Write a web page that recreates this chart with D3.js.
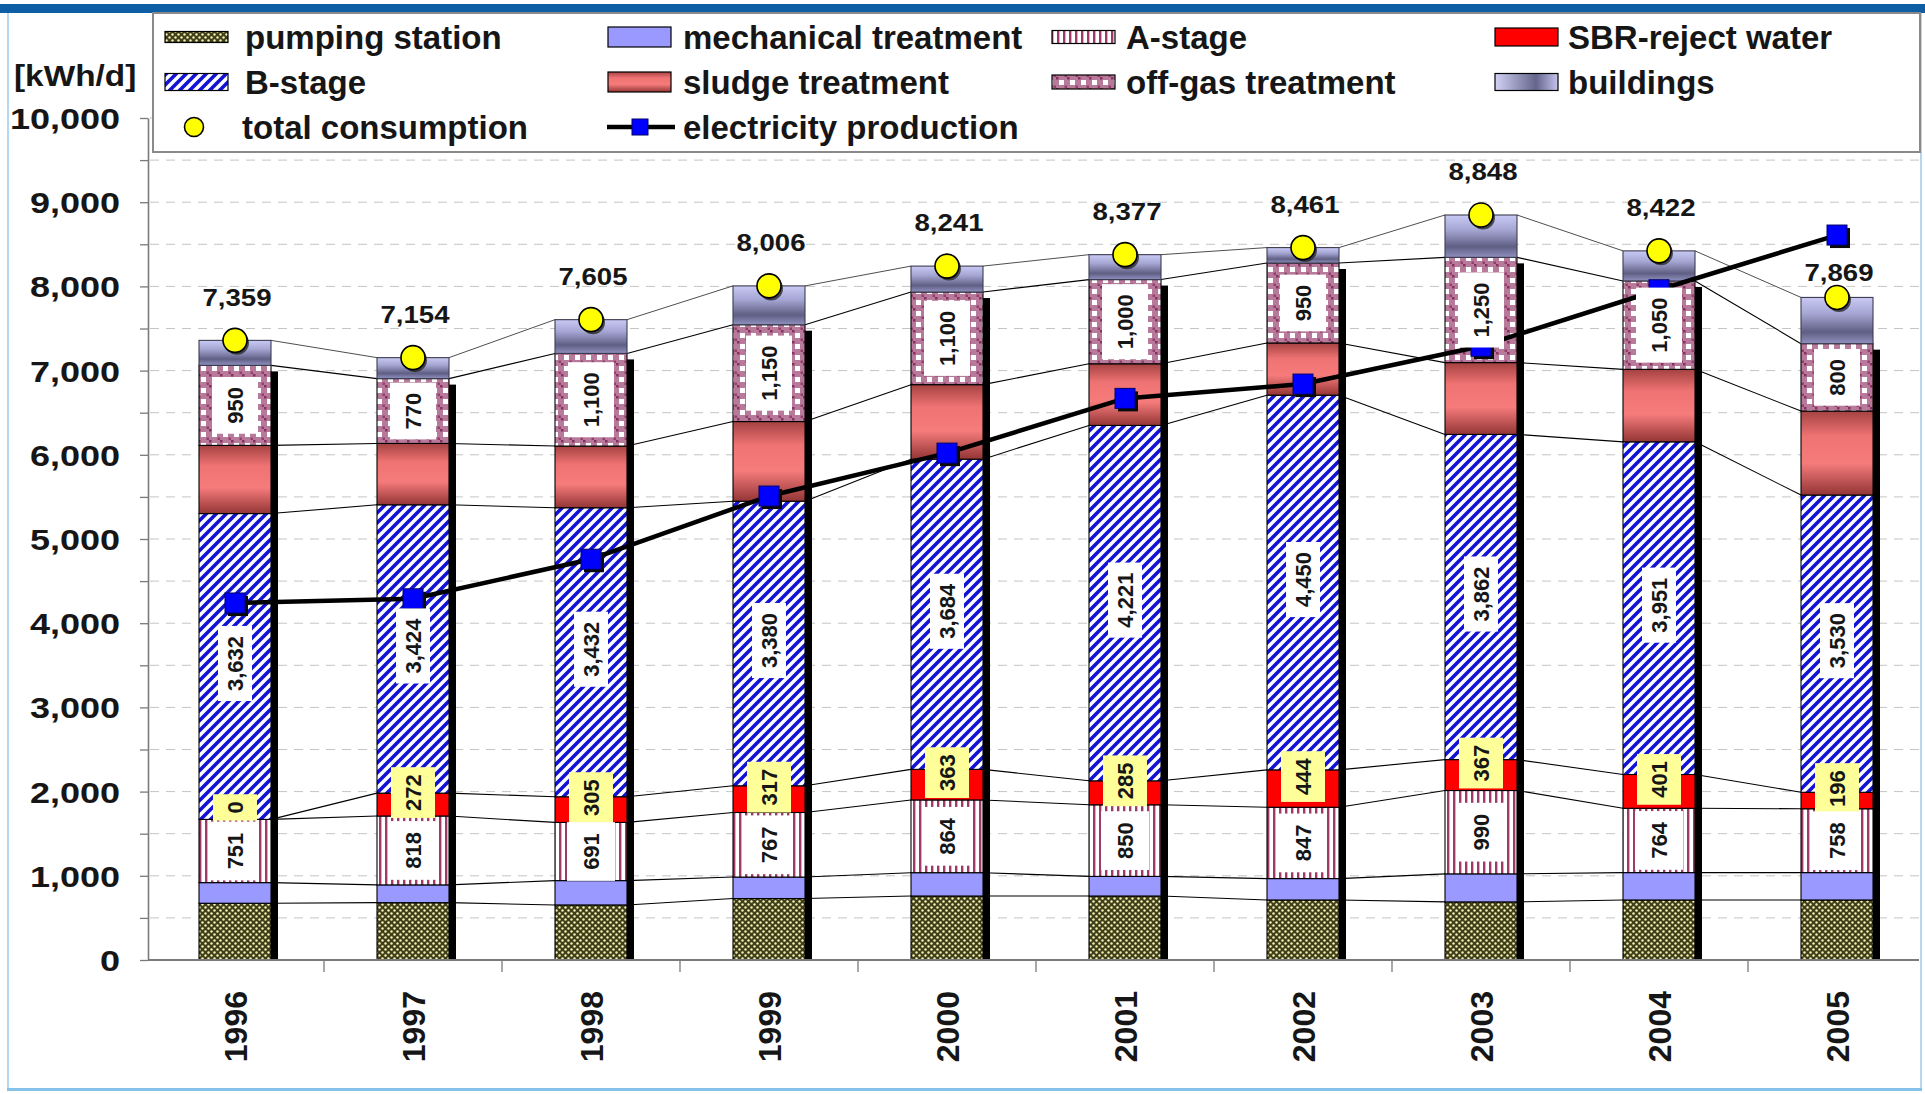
<!DOCTYPE html>
<html>
<head>
<meta charset="utf-8">
<script src="https://cdn.jsdelivr.net/npm/d3@7"></script>
<style>
  html, body { margin: 0; padding: 0; background: #fff; }
  svg { display: block; }
  text { font-family: "Liberation Sans", Arial, sans-serif; font-weight: bold; fill: #161616; }
</style>
</head>
<body>
<svg id="chart" width="1925" height="1094"></svg>
<script>
// ---- data: daily energy consumption by process unit [kWh/d] ----
const years = ["1996", "1997", "1998", "1999", "2000", "2001", "2002", "2003", "2004", "2005"];
const pumpingStation       = [674, 681, 654, 730, 760, 760, 713, 690, 713, 713];
const mechanicalTreatment  = [245, 211, 289, 255, 277, 233, 254, 333, 325, 325];
const aStage               = [751, 818, 691, 767, 864, 850, 847, 990, 764, 758];
const sbrRejectWater       = [0, 272, 305, 317, 363, 285, 444, 367, 401, 196];
const bStage               = [3632, 3424, 3432, 3380, 3684, 4221, 4450, 3862, 3951, 3530];
const sludgeTreatment      = [810, 729, 733, 946, 885, 732, 620, 853, 861, 998];
const offGasTreatment      = [950, 770, 1100, 1150, 1100, 1000, 950, 1250, 1050, 800];
const buildings            = [297, 249, 401, 461, 308, 296, 183, 503, 357, 549];
const totalConsumption     = [7359, 7154, 7605, 8006, 8241, 8377, 8461, 8848, 8422, 7869];
const electricityProduction = [4240, 4290, 4760, 5510, 6020, 6670, 6840, 7290, 7960, 8610];
const yTickValues  = [0, 500, 1000, 1500, 2000, 2500, 3000, 3500, 4000, 4500, 5000,
                      5500, 6000, 6500, 7000, 7500, 8000, 8500, 9000, 9500, 10000];
const yTickLabels  = [0, 1000, 2000, 3000, 4000, 5000, 6000, 7000, 8000, 9000, 10000];
const yUnit = "[kWh/d]";

// ---- series setup ----
const series = [
  { key: "pumping",    name: "pumping station",      values: pumpingStation,      fill: "url(#pumpPat)",  swH: 11 },
  { key: "mechanical", name: "mechanical treatment", values: mechanicalTreatment, fill: "#9999ff",        swH: 20 },
  { key: "aStage",     name: "A-stage",              values: aStage,              fill: "url(#aPat)",     swH: 13,
    label: { across: 48, pad: 22, bg: "#ffffff", shift: 0, order: 1 } },
  { key: "sbr",        name: "SBR-reject water",     values: sbrRejectWater,      fill: "#ff0000",        swH: 18,
    label: { across: 44, pad: 14, bg: "#ffff99", shift: -12, order: 0 } },
  { key: "bStage",     name: "B-stage",              values: bStage,              fill: "url(#bPat)",     swH: 17,
    label: { across: 34, pad: 20, bg: "#ffffff", shift: -3, order: 2 } },
  { key: "sludge",     name: "sludge treatment",     values: sludgeTreatment,     fill: "url(#sludgeGrad)", swH: 20 },
  { key: "offGas",     name: "off-gas treatment",    values: offGasTreatment,     fill: "url(#offPat)",   swH: 14,
    label: { across: 46, pad: 20, bg: "#ffffff", shift: 0, order: 3 } },
  { key: "buildings",  name: "buildings",            values: buildings,           fill: "url(#bldGrad)",  swH: 17 }
];

const table = years.map((yr, i) => {
  const row = { year: yr };
  series.forEach(s => { row[s.key] = s.values[i]; });
  return row;
});
const stacked = d3.stack().keys(series.map(s => s.key))(table);

const svg = d3.select("#chart");
const fmt = d3.format(",");

// ---- scales ----
const x = d3.scaleBand().domain(years).range([146, 1926]).paddingInner(106 / 178).paddingOuter(53 / 178);
const y = d3.scaleLinear().domain([0, 10000]).range([960, 118]);
const barW = x.bandwidth();
const step = x.step();
const xc = yr => x(yr) + barW / 2;

// ---- defs: fills ----
const defs = svg.append("defs");

const pump = defs.append("pattern").attr("id", "pumpPat").attr("patternUnits", "userSpaceOnUse")
  .attr("width", 6).attr("height", 6);
pump.append("rect").attr("width", 6).attr("height", 6).attr("fill", "#3e3e1a");
pump.append("circle").attr("cx", 1.5).attr("cy", 1.5).attr("r", 1.2).attr("fill", "#f6f1b2");
pump.append("circle").attr("cx", 4.5).attr("cy", 4.5).attr("r", 1.2).attr("fill", "#f6f1b2");

const aP = defs.append("pattern").attr("id", "aPat").attr("patternUnits", "userSpaceOnUse")
  .attr("width", 6).attr("height", 10);
aP.append("rect").attr("width", 6).attr("height", 10).attr("fill", "#ffffff");
aP.append("rect").attr("x", 1).attr("width", 2.4).attr("height", 10).attr("fill", "#9e3a6a");

const bP = defs.append("pattern").attr("id", "bPat").attr("patternUnits", "userSpaceOnUse")
  .attr("width", 10).attr("height", 10);
bP.append("rect").attr("width", 10).attr("height", 10).attr("fill", "#ffffff");
bP.append("path").attr("d", "M-2.5,2.5L2.5,-2.5M0,10L10,0M7.5,12.5L12.5,7.5")
  .attr("stroke", "#1212d4").attr("stroke-width", 3.6);

const oP = defs.append("pattern").attr("id", "offPat").attr("patternUnits", "userSpaceOnUse")
  .attr("width", 11).attr("height", 11);
oP.append("rect").attr("width", 11).attr("height", 11).attr("fill", "#b87a9a");
oP.append("rect").attr("x", 0).attr("y", 0).attr("width", 2.5).attr("height", 2.5).attr("fill", "#86305e");
oP.append("rect").attr("x", 8.5).attr("y", 8.5).attr("width", 2.5).attr("height", 2.5).attr("fill", "#943e6c");
oP.append("rect").attr("x", 3).attr("y", 3).attr("width", 5).attr("height", 5).attr("fill", "#ffffff");

function vGrad(id, stops, horizontal) {
  const g = defs.append("linearGradient").attr("id", id)
    .attr("x1", 0).attr("y1", 0).attr("x2", horizontal ? 1 : 0).attr("y2", horizontal ? 0 : 1);
  stops.forEach(([o, c]) => g.append("stop").attr("offset", o).attr("stop-color", c));
}
vGrad("sludgeGrad", [[0, "#a54242"], [0.3, "#f07373"], [0.62, "#f67b7b"], [1, "#933535"]]);
vGrad("bldGrad", [[0, "#c9c9f4"], [0.35, "#a6a6d4"], [0.75, "#5f5f84"], [1, "#9090c0"]]);
vGrad("bldGradH", [[0, "#d2d2f6"], [0.65, "#65658c"], [1, "#c4c4ee"]], true);

// ---- page frame ----
svg.append("rect").attr("x", 0).attr("y", 4).attr("width", 1925).attr("height", 9).attr("fill", "#0e5ea6");
svg.append("rect").attr("x", 7).attr("y", 13).attr("width", 2).attr("height", 1078).attr("fill", "#b6d7f0");
svg.append("rect").attr("x", 1920).attr("y", 13).attr("width", 2).attr("height", 1078).attr("fill", "#b6d7f0");
svg.append("rect").attr("x", 7).attr("y", 1088).attr("width", 1915).attr("height", 3).attr("fill", "#84c2ea");

// ---- gridlines ----
svg.append("g").selectAll("line").data(yTickValues.filter(v => v > 0)).join("line")
  .attr("x1", 150).attr("x2", 1919)
  .attr("y1", d => y(d)).attr("y2", d => y(d))
  .attr("stroke", "#c4c4c4").attr("stroke-width", 1).attr("stroke-dasharray", "9,7");

// ---- series lines joining the segment boundaries of neighbouring bars ----
const joinG = svg.append("g");
stacked.forEach((layer, k) => {
  for (let i = 0; i < years.length - 1; i++) {
    joinG.append("line")
      .attr("x1", x(years[i]) + barW).attr("y1", y(layer[i][1]))
      .attr("x2", x(years[i + 1])).attr("y2", y(layer[i + 1][1]))
      .attr("stroke", k === stacked.length - 1 ? "#3a3a3a" : "#000")
      .attr("stroke-width", k === stacked.length - 1 ? 0.9 : 1.1);
  }
});

// ---- bar shadows (below the top segment) ----
const offLayer = stacked[6];
svg.append("g").selectAll("rect").data(years).join("rect")
  .attr("x", d => x(d) + barW).attr("width", 7)
  .attr("y", (d, i) => y(offLayer[i][1]) + 6)
  .attr("height", (d, i) => y(0) - y(offLayer[i][1]) - 6)
  .attr("fill", "#000");

// ---- stacked segments (all but buildings) ----
const segG = svg.append("g");
function drawLayer(layer, s) {
  segG.append("g").selectAll("rect").data(layer).join("rect")
    .attr("x", d => x(d.data.year)).attr("width", barW)
    .attr("y", d => y(d[1])).attr("height", d => y(d[0]) - y(d[1]))
    .attr("fill", s.fill)
    .attr("stroke", s.key === "buildings" ? "#3c3c50" : "#000").attr("stroke-width", 1.1);
}
stacked.forEach((layer, k) => { if (series[k].key !== "buildings") drawLayer(layer, series[k]); });

// ---- electricity production line ----
const elecG = svg.append("g");
const lineGen = d3.line().x((d, i) => xc(years[i])).y(d => y(d));
elecG.append("path").attr("d", lineGen(electricityProduction))
  .attr("fill", "none").attr("stroke", "#000").attr("stroke-width", 4.5).attr("stroke-linejoin", "round");
elecG.selectAll("rect.sh").data(electricityProduction).join("rect").attr("class", "sh")
  .attr("x", (d, i) => xc(years[i]) - 10 + 3).attr("y", d => y(d) - 10 + 3)
  .attr("width", 20).attr("height", 20).attr("fill", "#0a0a0a");
elecG.selectAll("rect.sq").data(electricityProduction).join("rect").attr("class", "sq")
  .attr("x", (d, i) => xc(years[i]) - 10).attr("y", d => y(d) - 10)
  .attr("width", 20).attr("height", 20).attr("fill", "#0000ff").attr("stroke", "#00006a").attr("stroke-width", 1);

// ---- top segment: buildings ----
stacked.forEach((layer, k) => { if (series[k].key === "buildings") drawLayer(layer, series[k]); });

// ---- value labels inside the bars ----
const labG = svg.append("g");
const labelled = stacked.map((layer, k) => ({ layer, s: series[k] }))
  .filter(o => o.s.label)
  .sort((a, b) => a.s.label.order - b.s.label.order);
labelled.forEach(({ layer, s }) => {
  layer.forEach((d, i) => {
    const cx = xc(years[i]);
    const cy = (y(d[0]) + y(d[1])) / 2 + s.label.shift;
    const g = labG.append("g").attr("transform", `translate(${cx},${cy}) rotate(-90)`);
    const box = g.append("rect");
    const t = g.append("text").attr("text-anchor", "middle").attr("dy", "0.36em")
      .style("font-size", "22px").text(fmt(s.values[i]));
    const len = t.node().getComputedTextLength() + s.label.pad;
    box.attr("x", -len / 2).attr("y", -s.label.across / 2)
      .attr("width", len).attr("height", s.label.across).attr("fill", s.label.bg);
  });
});

// ---- total consumption markers and labels ----
const totG = svg.append("g");
totalConsumption.forEach((v, i) => {
  const cx = xc(years[i]), cy = y(v);
  totG.append("circle").attr("cx", cx + 2).attr("cy", cy + 2.5).attr("r", 12).attr("fill", "#222").attr("opacity", 0.75);
  totG.append("circle").attr("cx", cx).attr("cy", cy).attr("r", 12)
    .attr("fill", "#ffff00").attr("stroke", "#000").attr("stroke-width", 1.6);
  const gap = electricityProduction[i] > v ? 25 : 43;
  totG.append("text").attr("transform", `translate(${cx + 2},${cy - gap}) scale(1.2,1)`)
    .attr("text-anchor", "middle").attr("dy", "0.36em").style("font-size", "23px").text(fmt(v));
});

// ---- axes ----
const yAxis = d3.axisLeft(y).tickValues(yTickValues).tickSize(8).tickSizeOuter(0)
  .tickFormat(d => yTickLabels.includes(d) ? fmt(d) : "");
const yg = svg.append("g").attr("transform", "translate(148,0)").call(yAxis);
yg.select(".domain").attr("stroke", "#7a7a7a").attr("stroke-width", 1.6);
yg.selectAll(".tick line").attr("stroke", "#7a7a7a").attr("stroke-width", 1.3);
yg.selectAll(".tick text")
  .attr("transform", "scale(1.2,1)").attr("x", -28 / 1.2).attr("dy", "0.35em")
  .style("font-size", "30px").style("font-family", "'Liberation Sans', Arial, sans-serif")
  .style("font-weight", "bold").attr("fill", "#161616");

svg.append("line").attr("x1", 148).attr("x2", 1919).attr("y1", y(0)).attr("y2", y(0))
  .attr("stroke", "#7a7a7a").attr("stroke-width", 1.8);
svg.append("g").selectAll("line").data(years.slice(0, -1)).join("line")
  .attr("x1", d => xc(d) + step / 2).attr("x2", d => xc(d) + step / 2)
  .attr("y1", y(0)).attr("y2", y(0) + 12)
  .attr("stroke", "#7a7a7a").attr("stroke-width", 1.3);

const xAxis = d3.axisBottom(x).tickSize(0).tickSizeOuter(0);
const xg = svg.append("g").attr("transform", `translate(0,${y(0)})`).call(xAxis);
xg.select(".domain").remove();
xg.selectAll(".tick text")
  .attr("transform", "rotate(-90)").attr("x", -31).attr("y", 0).attr("dy", "0.36em")
  .attr("text-anchor", "end")
  .style("font-size", "32px").style("font-family", "'Liberation Sans', Arial, sans-serif")
  .style("font-weight", "bold").attr("fill", "#161616");

// unit label
svg.append("text").attr("transform", "translate(14,76) scale(1.15,1)").attr("dy", "0.35em")
  .style("font-size", "29px").text(yUnit);

// ---- legend ----
const lg = svg.append("g");
lg.append("rect").attr("x", 153).attr("y", 13).attr("width", 1767).attr("height", 139)
  .attr("fill", "#fff").attr("stroke", "#8a8a8a").attr("stroke-width", 2);
const swX = [165, 608, 1052, 1495];
const txX = [245, 683, 1126, 1568];
const rowY = [37, 82, 127];
series.forEach((s, i) => {
  const c = i % 4, r = Math.floor(i / 4);
  lg.append("rect").attr("x", swX[c]).attr("y", rowY[r] - s.swH / 2)
    .attr("width", 63).attr("height", s.swH)
    .attr("fill", s.key === "buildings" ? "url(#bldGradH)" : s.fill)
    .attr("stroke", "#000").attr("stroke-width", 1.2);
  lg.append("text").attr("x", txX[c]).attr("y", rowY[r]).attr("dy", "0.35em")
    .style("font-size", "33px").text(s.name);
});
// marker entries
lg.append("circle").attr("cx", 194).attr("cy", rowY[2]).attr("r", 9.5)
  .attr("fill", "#ffff00").attr("stroke", "#000").attr("stroke-width", 1.6);
lg.append("text").attr("x", 242).attr("y", rowY[2]).attr("dy", "0.35em").style("font-size", "33px")
  .text("total consumption");
lg.append("line").attr("x1", 607).attr("x2", 675).attr("y1", rowY[2]).attr("y2", rowY[2])
  .attr("stroke", "#000").attr("stroke-width", 4.5);
lg.append("rect").attr("x", 632).attr("y", rowY[2] - 8).attr("width", 16).attr("height", 16)
  .attr("fill", "#0000ff").attr("stroke", "#00006a").attr("stroke-width", 1);
lg.append("text").attr("x", 683).attr("y", rowY[2]).attr("dy", "0.35em").style("font-size", "33px")
  .text("electricity production");
</script>
</body>
</html>
